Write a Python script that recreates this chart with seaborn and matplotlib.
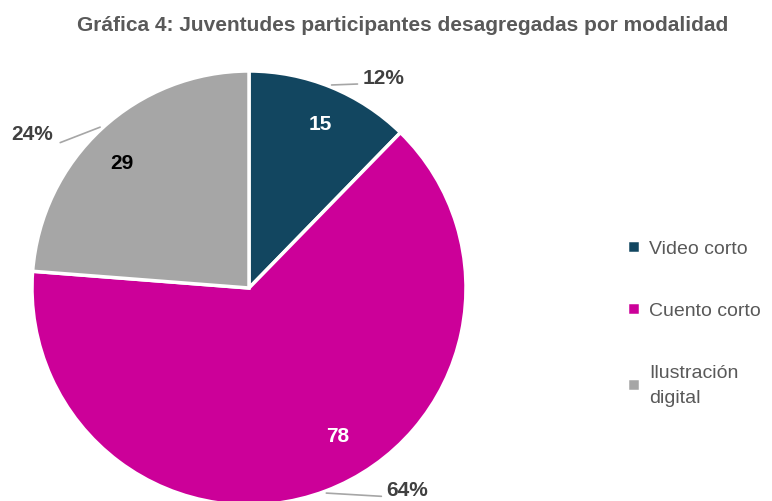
import matplotlib
matplotlib.use("Agg")
import matplotlib.pyplot as plt
import seaborn as sns
import numpy as np

# data
categorias = ["Video corto", "Cuento corto", "Ilustración\ndigital"]
valores = [15, 78, 29]
colores = ["#124660", "#CC0099", "#A6A6A6"]
color_valor = ["white", "white", "black"]

sns.set_style("white")
plt.rcParams["font.family"] = ["Liberation Sans Narrow", "Liberation Sans", "DejaVu Sans"]

fig = plt.figure(figsize=(7.72, 5.02), dpi=100)
# axes placed so the pie sits where it does in the original (bottom clipped)
ax = fig.add_axes([32 / 772, -4 / 502, 434 / 772, 434 / 502])

total = sum(valores)
wedges, texts = ax.pie(valores, colors=colores, startangle=90, counterclock=False,
                       radius=1.0, wedgeprops=dict(edgecolor="white", linewidth=2.5))
ax.set_xlim(-1, 1)
ax.set_ylim(-1, 1)
ax.set_aspect("equal")
ax.axis("off")

# value labels inside the slices
val_pos = [(0.33, 0.76), (0.41, -0.68), (-0.585, 0.58)]
for v, p, c in zip(valores, val_pos, color_valor):
    ax.text(p[0], p[1], str(v), ha="center", va="center",
            fontsize=15, fontweight="bold", color=c)

# percent labels with leader lines
pct_pos = [(0.62, 0.97), (0.73, -0.93), (-1.0, 0.71)]
line_end = [(0.50, 0.94), (0.61, -0.96), (-0.87, 0.67)]
for w, v, p, e in zip(wedges, valores, pct_pos, line_end):
    ang = np.deg2rad((w.theta1 + w.theta2) / 2)
    x0, y0 = 1.01 * np.cos(ang), 1.01 * np.sin(ang)
    ax.plot([x0, e[0]], [y0, e[1]], color="#A6A6A6", lw=1.2, clip_on=False)
    ax.text(p[0], p[1], f"{round(100 * v / total)}%", ha="center", va="center",
            fontsize=15, fontweight="bold", color="#404040", clip_on=False)

for a in ax.lines + ax.texts:
    a.set_clip_on(False)
for w in wedges:
    w.set_clip_on(False)

fig.text(0.522, 0.95, "Gráfica 4: Juventudes participantes desagregadas por modalidad",
         ha="center", va="center", fontsize=15, fontweight="bold", color="#595959")

leg = fig.legend(wedges, categorias, loc="center left", bbox_to_anchor=(0.79, 0.355),
                 frameon=False, fontsize=14, labelspacing=2.3, handlelength=0.65,
                 handleheight=0.65, handletextpad=0.45, labelcolor="#595959")
for t in leg.get_texts():
    t.set_linespacing(1.6)

fig.savefig("out.png", dpi=100)
